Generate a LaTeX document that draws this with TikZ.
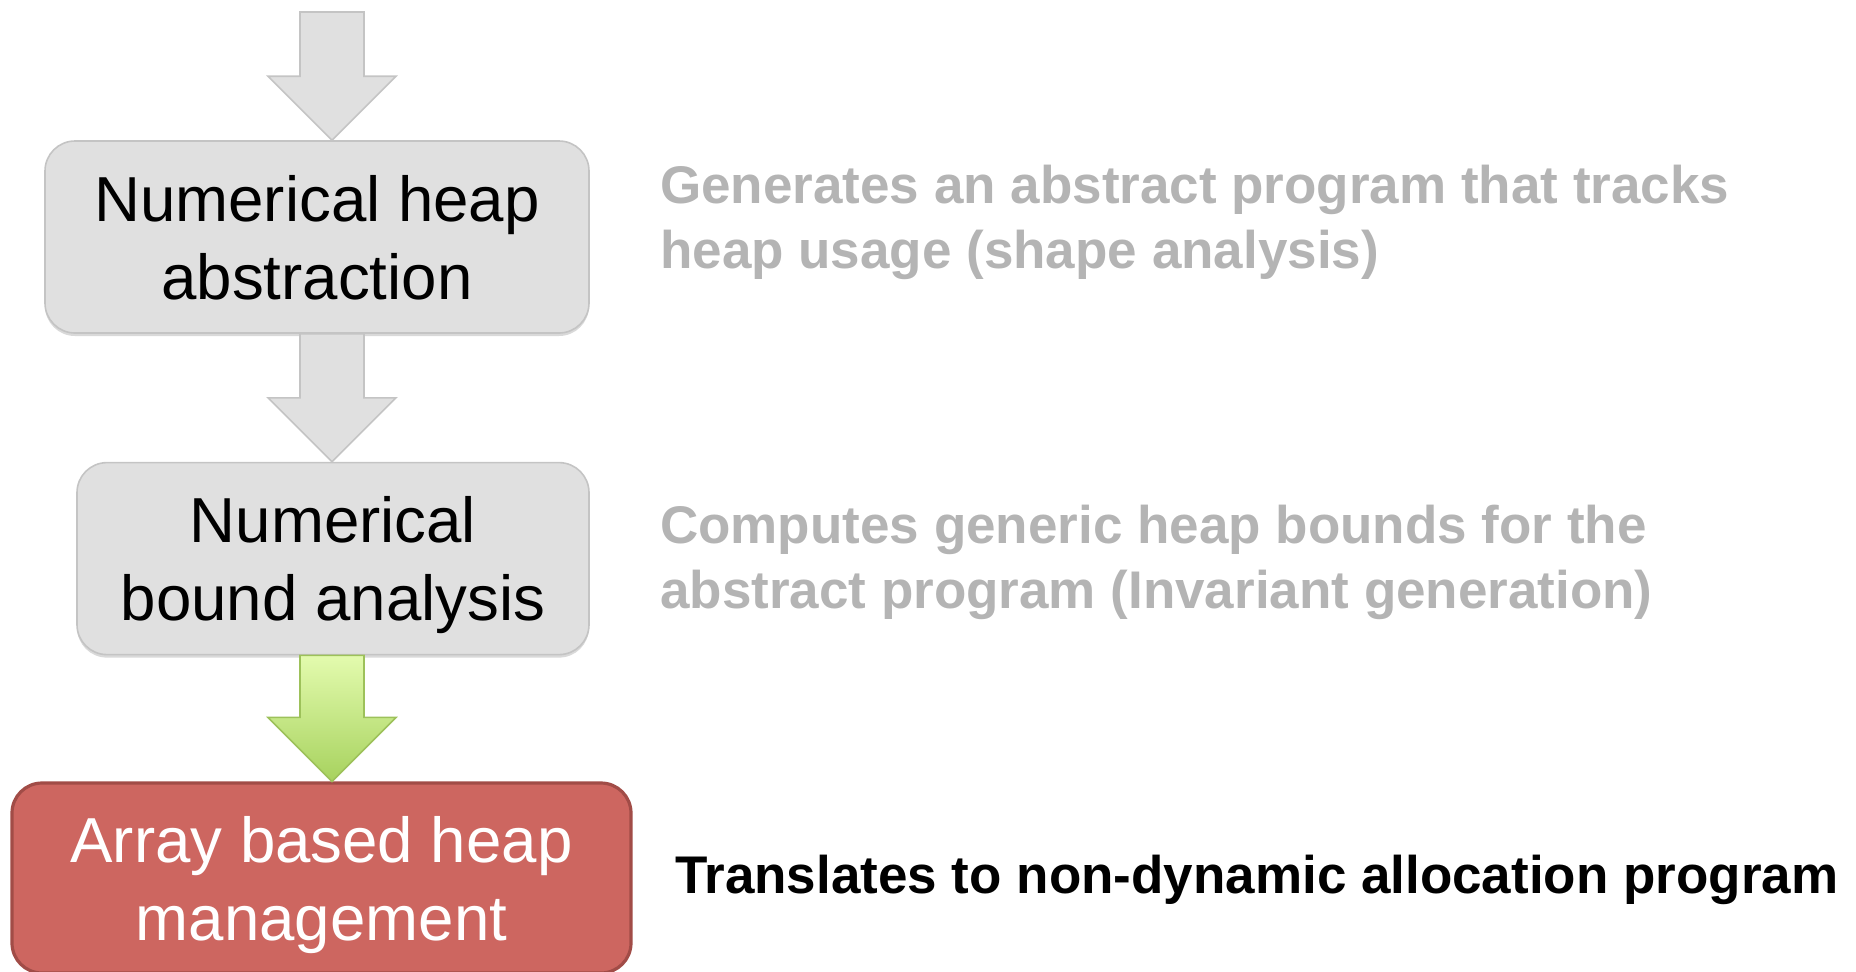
\documentclass[tikz,border=0pt]{standalone}
\usepackage{fontspec}
\setmainfont{Liberation Sans}
\usetikzlibrary{positioning, calc, shadows}

\definecolor{boxgrey}{HTML}{E0E0E0}
\definecolor{boxline}{HTML}{C4C4C4}
\definecolor{notegrey}{HTML}{B4B4B4}
\definecolor{redfill}{HTML}{CD6660}
\definecolor{redline}{HTML}{A14C47}
\definecolor{greentop}{HTML}{E3FBAE}
\definecolor{greenbot}{HTML}{A7D25E}
\definecolor{greenline}{HTML}{9DC15A}

\newcommand{\blockarrow}[3]{%
  \draw[#1] let \p1=(#2), \p2=(#3) in
    (\x1-16pt,\y1) -- (\x1+16pt,\y1) -- (\x1+16pt,\y2+32pt) -- (\x1+32pt,\y2+32pt)
    -- (\x1,\y2) -- (\x1-32pt,\y2+32pt) -- (\x1-16pt,\y2+32pt) -- cycle;}

\begin{document}
\begin{tikzpicture}[node distance=64pt,
    box/.style={rectangle, rounded corners=15pt, align=center, inner sep=0pt, text depth=0pt,
        minimum height=96pt, font=\fontsize{31.8pt}{39pt}\selectfont},
    stage/.style={box, fill=boxgrey, draw=boxline, line width=0.8pt,
        drop shadow={shadow xshift=0pt, shadow yshift=-1.5pt, opacity=0.3}},
    result/.style={box, fill=redfill, draw=redline, line width=1.6pt, text=white},
    note/.style={align=left, inner sep=0pt, text=notegrey,
        font=\fontsize{26.5pt}{32.5pt}\selectfont\bfseries},
    greyarrow/.style={fill=boxgrey, draw=boxline, line width=0.8pt},
    greenarrow/.style={top color=greentop, bottom color=greenbot, draw=greenline, line width=0.8pt}]
\useasboundingbox (0,0) rectangle (928pt,-485.5pt);

\node[stage, minimum width=272pt]  (heap) at (158.5pt,-118.5pt) {Numerical heap\\abstraction};
\node[stage, minimum width=256pt]  (bound) [below=of heap, xshift=8pt] {Numerical\\bound analysis};
\node[result, minimum width=309.5pt, minimum height=95pt] (array) [below=63pt of bound, xshift=-5.75pt] {Array based heap\\management};

\coordinate (entry) at (166pt,-6pt);
\blockarrow{greyarrow}{entry}{entry |- heap.north}
\blockarrow{greyarrow}{entry |- heap.south}{entry |- bound.north}
\blockarrow{greenarrow}{entry |- bound.south}{entry |- array.north}

\node[note] (heapnote) [right=35pt of heap, yshift=7.2pt] {Generates an abstract program that tracks\\heap usage (shape analysis)};
\node[note] (boundnote) [right=35pt of bound, yshift=-2pt] {Computes generic heap bounds for the\\abstract program (Invariant generation)};
\node[note, text=black] (arraynote) [right=21pt of array, yshift=-0.8pt] {Translates to non-dynamic allocation program};
\end{tikzpicture}
\end{document}
